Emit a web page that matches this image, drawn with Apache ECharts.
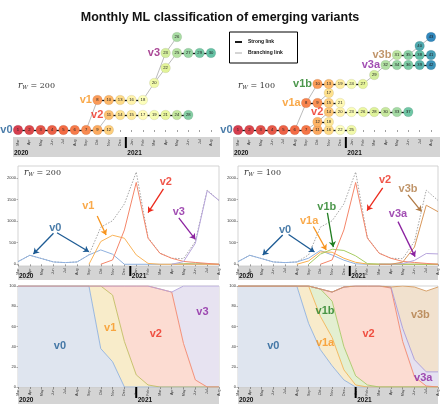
<!DOCTYPE html>
<html><head><meta charset="utf-8">
<script src="https://cdn.jsdelivr.net/npm/echarts@6/dist/echarts.min.js"></script>
<style>html,body{margin:0;padding:0;background:#fff}#c{width:440px;height:411px}</style>
</head><body><div id="c"></div>
<script>
// ---------------- data ----------------
const months = ['Mar','Apr','May','Jun','Jul','Aug','Sep','Oct','Nov','Dec','Jan','Feb','Mar','Apr','May','Jun','Jul','Aug'];
const years = ['2020','2021'];
const yearSplit = 9.5;

// monthly counts (middle panels)
const totalCases = [62,209,132,54,39,54,217,860,1010,1400,2140,620,260,140,130,530,1720,1480];
const v0Cases  = [62,209,132,54,39,54,217,333,233,0,0,0,0,0,0,0,0,0];
const v1Cases  = [null,null,null,null,null,null,0,527,674,604,217,20,0,0,0,0,0,0];
const v2Cases  = [null,null,null,null,null,null,null,0,100,797,1898,604,255,139,66,42,20,0];
const v3Cases  = [null,null,null,null,null,null,null,null,null,null,null,null,null,0,62,488,1705,1480];
const otherCases = [null,null,null,null,null,null,null,null,null,null,null,null,null,0,15,25,10,0];

const v0CasesR  = [62,209,132,54,39,54,140,320,215,95,10,0,0,0,0,0,0,0];
const v1aCasesR = [null,null,null,null,null,0,77,285,280,140,45,5,0,0,0,0,0,0];
const v1bCasesR = [null,null,null,null,null,null,0,235,350,320,195,15,3,0,0,0,0,0];
const v2CasesR  = [null,null,null,null,null,null,null,0,100,797,1898,604,255,139,66,42,20,0];
const v3aCasesR = [null,null,null,null,null,null,null,null,null,null,null,null,0,0,15,90,250,240];
const v3bCasesR = [null,null,null,null,null,null,null,null,null,null,null,null,0,0,50,400,1370,1220];

// monthly shares in % (bottom panels)
const shareV0 = [100,100,100,100,100,100,100,38,25,0,0,0,0,0,0,0,0,0];
const shareV1 = [0,0,0,0,0,0,0,62,66,45,12,2,0,0,0,0,0,0];
const shareV2 = [0,0,0,0,0,0,0,0,9,55,88,98,97,94,43,7,0,0];
const shareV3 = [0,0,0,0,0,0,0,0,0,0,0,0,0,0,57,93,100,100];

const shareV0R  = [100,100,100,100,100,100,63,37,21,7,0,0,0,0,0,0,0,0];
const shareV1aR = [0,0,0,0,0,0,37,33,28,10,2,0,0,0,0,0,0,0];
const shareV1bR = [0,0,0,0,0,0,0,27,36,23,9,2,0,0,0,0,0,0];
const shareV2R  = [0,0,0,0,0,0,0,0,9,59,89,98,100,98,45,10,1,0];
const shareV3aR = [0,0,0,0,0,0,0,0,0,0,0,0,0,1,13,17,14,15];
const shareV3bR = [0,0,0,0,0,0,0,0,0,0,0,0,0,0,42,72,80,84];

// cluster trees: [cluster id, month index, lane]
const nodesL = [[1,0,'v0'],[2,1,'v0'],[3,2,'v0'],[4,3,'v0'],[5,4,'v0'],[6,5,'v0'],[7,6,'v0'],[9,7,'v0'],[12,8,'v0'],
  [8,7,'v1'],[10,8,'v1'],[13,9,'v1'],[16,10,'v1'],[18,11,'v1'],
  [11,8,'v2'],[14,9,'v2'],[15,10,'v2'],[17,11,'v2'],[19,12,'v2'],[21,13,'v2'],[24,14,'v2'],[28,15,'v2'],
  [20,12,'a'],[22,13,'b'],[23,13,'v3'],[25,14,'v3'],[27,15,'v3'],[29,16,'v3'],[30,17,'v3'],[26,14,'c']];
const strongL = [[1,2],[2,3],[3,4],[4,5],[5,6],[6,7],[7,9],[9,12],[8,10],[10,13],[13,16],[16,18],
  [11,14],[14,15],[15,17],[17,19],[19,21],[21,24],[24,28],[25,27],[27,29],[29,30]];
const branchL = [[7,8],[9,11],[18,20],[20,22],[22,25],[20,23],[23,26]];

const nodesR = [[1,0,'v0'],[2,1,'v0'],[3,2,'v0'],[4,3,'v0'],[5,4,'v0'],[6,5,'v0'],[7,6,'v0'],[11,7,'v0'],[16,8,'v0'],[22,9,'v0'],[25,10,'v0'],
  [12,7,'a'],[18,8,'a'],
  [14,8,'v2'],[20,9,'v2'],[23,10,'v2'],[26,11,'v2'],[28,12,'v2'],[30,13,'v2'],[33,14,'v2'],[37,15,'v2'],
  [8,6,'v1a'],[9,7,'v1a'],[15,8,'v1a'],[21,9,'v1a'],[17,8,'b'],
  [10,7,'v1b'],[13,8,'v1b'],[19,9,'v1b'],[24,10,'v1b'],[27,11,'v1b'],[29,12,'c'],
  [32,13,'v3a'],[34,14,'v3a'],[36,15,'v3a'],[39,16,'v3a'],[42,17,'v3a'],
  [31,14,'v3b'],[35,15,'v3b'],[38,16,'v3b'],[41,17,'v3b'],[40,16,'d'],[43,17,'e']];
const strongR = [[1,2],[2,3],[3,4],[4,5],[5,6],[6,7],[7,11],[11,16],[16,22],[22,25],[12,18],
  [14,20],[20,23],[23,26],[26,28],[28,30],[30,33],[33,37],[8,9],[9,15],[15,21],
  [10,13],[13,19],[19,24],[24,27],[32,34],[34,36],[36,39],[39,42],[31,35],[35,38],[38,41]];
const branchR = [[6,8],[8,10],[7,12],[12,14],[9,17],[27,29],[29,32],[32,31],[35,40],[40,43]];

// ---------------- layout / style ----------------
const laneL = {v0:0, v2:1.5, v1:3, a:4.7, b:6.2, v3:7.7, c:9.3};
const laneR = {v0:0, a:0.8, v2:1.8, v1a:2.7, b:3.7, v1b:4.6, c:5.5, v3a:6.5, v3b:7.5, d:8.4, e:9.3};
const C = {v0:'#1d5b94', v1:'#f7941d', v2:'#ec2a1c', v3:'#95197a', v3a:'#8b22a0', v1b:'#1f7d1f', v3b:'#b07a45'};
const spectral = ['#9e0142','#d53e4f','#f46d43','#fdae61','#fee08b','#ffffbf','#e6f598','#abdda4','#66c2a5','#3288bd','#5e4fa2'];
function spec(t){
  const p = Math.max(0,Math.min(1,t))*10, i = Math.min(9,Math.floor(p)), f = p-i;
  const a = spectral[i], b = spectral[i+1];
  const h = (s,k)=>parseInt(s.substr(1+2*k,2),16);
  const c = [0,1,2].map(k=>Math.round(h(a,k)+(h(b,k)-h(a,k))*f));
  return 'rgb('+c.join(',')+')';
}
const FONT = 'Liberation Sans, Arial, sans-serif';
const GL = 18, GR = 238;
const grids = [
  {left:GL, top:30, width:193, height:107},
  {left:GR, top:30, width:193, height:107},
  {left:GL, top:166, width:201, height:100, show:true, borderColor:'#c8c8c8', borderWidth:0.8},
  {left:GR, top:166, width:200, height:100, show:true, borderColor:'#c8c8c8', borderWidth:0.8},
  {left:GL, top:286, width:201, height:101, show:true, borderColor:'#c8c8c8', borderWidth:0.8},
  {left:GR, top:286, width:200, height:101, show:true, borderColor:'#c8c8c8', borderWidth:0.8}
];
const tickStyle = {show:true, length:2, lineStyle:{color:'#444', width:0.5}};
const labStyle = {fontSize:3.6, rotate:90, margin:2.5, color:'#333', fontFamily:FONT};
const xAxes = [0,1,2,3].map(i=>({type:'value', gridIndex:i, min:0, max:17, interval:1,
  axisLine:{show:false}, splitLine:{show:false}, axisTick:tickStyle,
  axisLabel:Object.assign({formatter:v=>months[v]||''}, labStyle)}))
  .concat([4,5].map(i=>({type:'category', gridIndex:i, data:months, boundaryGap:false,
  axisLine:{show:false}, splitLine:{show:false}, axisTick:Object.assign({interval:0}, tickStyle),
  axisLabel:Object.assign({interval:0}, labStyle)})))
  .concat([4,5].map(i=>({type:'value', gridIndex:i, min:0, max:17, show:false})));
const yAxes = [
  {type:'value', gridIndex:0, min:-0.7, max:10, show:false},
  {type:'value', gridIndex:1, min:-0.7, max:10, show:false},
  ...[2,3].map(i=>({type:'value', gridIndex:i, min:-40, max:2280, splitLine:{show:false}, axisLine:{show:false},
    axisTick:{show:true, length:1.5, customValues:[0,500,1000,1500,2000], lineStyle:{color:'#666', width:0.5}},
    axisLabel:{fontSize:4, margin:2, color:'#333', fontFamily:FONT, customValues:[0,500,1000,1500,2000], formatter:v=>String(v)}})),
  ...[4,5].map(i=>({type:'value', gridIndex:i, min:0, max:100, interval:20, splitLine:{show:false}, axisLine:{show:false},
    axisTick:{show:true, length:1.5, lineStyle:{color:'#666', width:0.5}},
    axisLabel:{fontSize:4, margin:2, color:'#333', fontFamily:FONT}}))
];

function graphSeries(gi, nodes, lanes, strong, branch, tmax){
  const maxId = Math.max(...nodes.map(n=>n[0]));
  return {type:'graph', coordinateSystem:'cartesian2d', xAxisIndex:gi, yAxisIndex:gi, symbol:'circle', symbolSize:9.6, z:3,
    data: nodes.map(n=>({name:String(n[0]), value:[n[1], lanes[n[2]]],
      itemStyle:{color:spec(0.1+(tmax-0.1)*(n[0]-1)/(maxId-1)), borderColor:'rgba(0,0,0,0.18)', borderWidth:0.4}})),
    links: strong.map(l=>({source:String(l[0]), target:String(l[1]), lineStyle:{color:'#111', width:1.3, opacity:1}}))
      .concat(branch.map(l=>({source:String(l[0]), target:String(l[1]), lineStyle:{color:'#aaa', width:0.8, opacity:1}}))),
    label:{show:true, position:'inside', fontSize:4.2, color:'#222', fontFamily:FONT, formatter:'{b}'},
    emphasis:{disabled:true}, animation:false};
}
function textSeries(xi, yi, items, size, pos){
  return {type:'scatter', xAxisIndex:xi, yAxisIndex:yi, symbol:'circle', symbolSize:1, itemStyle:{color:'rgba(0,0,0,0)'}, z:6, silent:true,
    data: items.map(t=>({value:[t[1], t[2]], label:{show:true, formatter:t[0], color:t[3]}})),
    label:{show:true, position:pos, distance:5, fontSize:size, fontWeight:'bold', fontFamily:FONT}};
}
function arrowSeries(gi, items){
  return {type:'lines', coordinateSystem:'cartesian2d', xAxisIndex:gi, yAxisIndex:gi, z:6, silent:true,
    symbol:['none','arrow'], symbolSize:[0,5.5],
    data: items.map(a=>({coords:[[a[0],a[1]],[a[2],a[3]]], lineStyle:{color:a[4], width:1.3}})),
    lineStyle:{width:1.3, opacity:1}};
}
function lineS(gi, data, color, extra){
  return Object.assign({type:'line', xAxisIndex:gi, yAxisIndex:gi, data:data.map((v,i)=>[i,v]), symbol:'none',
    lineStyle:{color:color, width:1}, itemStyle:{color:color}, connectNulls:false}, extra||{});
}
function areaS(gi, stack, data, line, fill){
  return {type:'line', xAxisIndex:gi, yAxisIndex:gi, stack:stack, data:data, symbol:'none',
    lineStyle:{color:line, width:0.9}, areaStyle:{color:fill, opacity:1}, itemStyle:{color:line}};
}

const series = [
  graphSeries(0, nodesL, laneL, strongL, branchL, 0.8),
  graphSeries(1, nodesR, laneR, strongR, branchR, 0.9),
  textSeries(0, 0, [['v0',0,laneL.v0,C.v0],['v1',7,laneL.v1,C.v1],['v2',8,laneL.v2,C.v2],['v3',13,laneL.v3,C.v3]], 11, 'left'),
  textSeries(1, 1, [['v0',0,laneR.v0,C.v0],['v1a',6,laneR.v1a,C.v1],['v1b',7,laneR.v1b,C.v1b],['v2',8,laneR.v2,C.v2],
     ['v3a',13,laneR.v3a,C.v3a],['v3b',14,laneR.v3b,C.v3b]], 11, 'left'),
  // middle left
  lineS(2, totalCases, '#9a9a9a', {lineStyle:{color:'#9a9a9a', width:0.9, type:[1.5,1.5]}}),
  lineS(2, otherCases, '#a8d070'),
  lineS(2, v0Cases, '#8fb1df'),
  lineS(2, v1Cases, '#f9b45a'),
  lineS(2, v2Cases, '#f4866a'),
  lineS(2, v3Cases, '#b8a6dc'),
  textSeries(2, 2, [['v0',3.15,844,C.v0],['v1',5.95,1350,C.v1],['v2',12.5,1900,C.v2],['v3',13.6,1220,C.v3a]], 11, 'inside'),
  arrowSeries(2, [[3.0,720,1.3,240,C.v0],[3.3,730,6.0,290,C.v0],[6.7,1120,7.45,680,C.v1],[12.3,1750,11.0,1200,C.v2],[13.6,1075,15.0,580,C.v3a]]),
  // middle right
  lineS(3, totalCases, '#9a9a9a', {lineStyle:{color:'#9a9a9a', width:0.9, type:[1.5,1.5]}}),
  lineS(3, v0CasesR, '#8fb1df'),
  lineS(3, v1aCasesR, '#f9b04f'),
  lineS(3, v1bCasesR, '#a6cc62'),
  lineS(3, v2CasesR, '#f4866a'),
  lineS(3, v3aCasesR, '#b6a4dc'),
  lineS(3, v3bCasesR, '#d8975a'),
  textSeries(3, 3, [['v0',4.0,800,C.v0],['v1a',6.05,1000,C.v1],['v1b',7.55,1340,C.v1b],['v2',12.5,1960,C.v2],['v3a',13.6,1170,C.v3a],['v3b',14.45,1750,C.v3b]], 11, 'inside'),
  arrowSeries(3, [[3.8,680,2.1,215,C.v0],[4.3,690,6.5,285,C.v0],[6.4,875,7.5,330,C.v1],[7.6,1190,8.1,400,C.v1b],
     [12.3,1770,10.97,1245,C.v2],[13.6,990,15.05,177,C.v3a],[14.45,1610,15.6,1223,C.v3b]]),
  // bottom left
  areaS(4,'L',shareV0,'#8fb1df','#dfe5ef'),
  areaS(4,'L',shareV1,'#c2bd62','#f8ecca'),
  areaS(4,'L',shareV2,'#f3876c','#fcdcd2'),
  areaS(4,'L',shareV3,'#b3a5dc','#e7e3f1'),
  textSeries(6, 4, [['v0',3.55,41,C.v0],['v1',7.8,58,C.v1],['v2',11.65,53,C.v2],['v3',15.6,74,C.v3a]], 11, 'inside'),
  // bottom right
  areaS(5,'R',shareV0R,'#8fb1df','#dfe5ef'),
  areaS(5,'R',shareV1aR,'#f2b356','#f8ebcb'),
  areaS(5,'R',shareV1bR,'#a8c868','#e3efd1'),
  areaS(5,'R',shareV2R,'#f3876c','#fcdcd2'),
  areaS(5,'R',shareV3aR,'#a89ad8','#e5e1f0'),
  areaS(5,'R',shareV3bR,'#d49a60','#f1e1ce'),
  textSeries(7, 5, [['v0',3.0,41,C.v0],['v1b',7.4,75,C.v1b],['v1a',7.4,44,C.v1],['v2',11.1,53,C.v2],['v3b',15.5,71,C.v3b],['v3a',15.75,9,C.v3a]], 11, 'inside')
];

const chart = echarts.init(document.getElementById('c'), null, {renderer:'canvas'});
chart.setOption({
  animation:false, backgroundColor:'#fff',
  title:{text:'Monthly ML classification of emerging variants', left:'center', top:6,
    textStyle:{fontSize:12.5, fontWeight:'bold', color:'#111', fontFamily:FONT}},
  grid:grids, xAxis:xAxes, yAxis:yAxes, series:series
});

// decorations: year bands, legend, r_W labels
const g = [];
const bands = [
  {gi:0, x0:13, x1:220, h:20}, {gi:1, x0:233, x1:440, h:20},
  {gi:2, x0:GL, x1:GL+201, h:14}, {gi:3, x0:GR, x1:GR+200, h:14},
  {gi:4, x0:GL, x1:GL+201, h:17}, {gi:5, x0:GR, x1:GR+200, h:17}
];
bands.forEach(b=>{
  const gr = grids[b.gi];
  const y0 = gr.top + gr.height;
  g.push({type:'rect', z:-5, shape:{x:b.x0, y:y0, width:b.x1-b.x0, height:b.h}, style:{fill:'#d4d4d4'}});
  const sx = chart.convertToPixel({gridIndex:b.gi}, [yearSplit, 0])[0];
  g.push({type:'rect', z:10, shape:{x:sx-1, y:y0, width:2, height:Math.min(11,b.h-4)}, style:{fill:'#000'}});
  g.push({type:'text', z:10, x:b.x0+1, y:y0+b.h-0.5, style:{text:years[0], fontSize:6.5, fontWeight:'bold', fill:'#111', fontFamily:FONT, verticalAlign:'bottom'}});
  g.push({type:'text', z:10, x:sx+1.5, y:y0+b.h-0.5, style:{text:years[1], fontSize:6.5, fontWeight:'bold', fill:'#111', fontFamily:FONT, verticalAlign:'bottom'}});
});
// legend box
g.push({type:'rect', z:10, shape:{x:229.5, y:32, width:68, height:31}, style:{fill:'#fff', stroke:'#000', lineWidth:1}});
g.push({type:'line', z:11, shape:{x1:235, y1:42, x2:242, y2:42}, style:{stroke:'#000', lineWidth:1.8}});
g.push({type:'line', z:11, shape:{x1:235, y1:53, x2:242, y2:53}, style:{stroke:'#aaa', lineWidth:1}});
g.push({type:'text', z:11, x:248, y:42, style:{text:'Strong link', fontSize:5, fontWeight:'bold', fill:'#111', fontFamily:FONT, verticalAlign:'middle'}});
g.push({type:'text', z:11, x:248, y:53, style:{text:'Branching link', fontSize:5, fontWeight:'bold', fill:'#111', fontFamily:FONT, verticalAlign:'middle'}});
// r_W labels
const rw = (x,y,val)=>({type:'text', z:11, x:x, y:y, style:{
  text:'{r|r}{w|W}{n| = '+val+'}', verticalAlign:'middle',
  rich:{r:{fontSize:9, fontStyle:'italic', fontFamily:'DejaVu Serif, serif', fill:'#333'},
        w:{fontSize:5.5, fontStyle:'italic', fontFamily:'DejaVu Serif, serif', fill:'#333', padding:[4,0,0,0]},
        n:{fontSize:8, fontFamily:'DejaVu Serif, serif', fill:'#333'}}}});
g.push(rw(18,85.5,'200'), rw(238,85.5,'100'), rw(24,173,'200'), rw(244,173,'100'));
chart.setOption({graphic:g});
</script></body></html>
